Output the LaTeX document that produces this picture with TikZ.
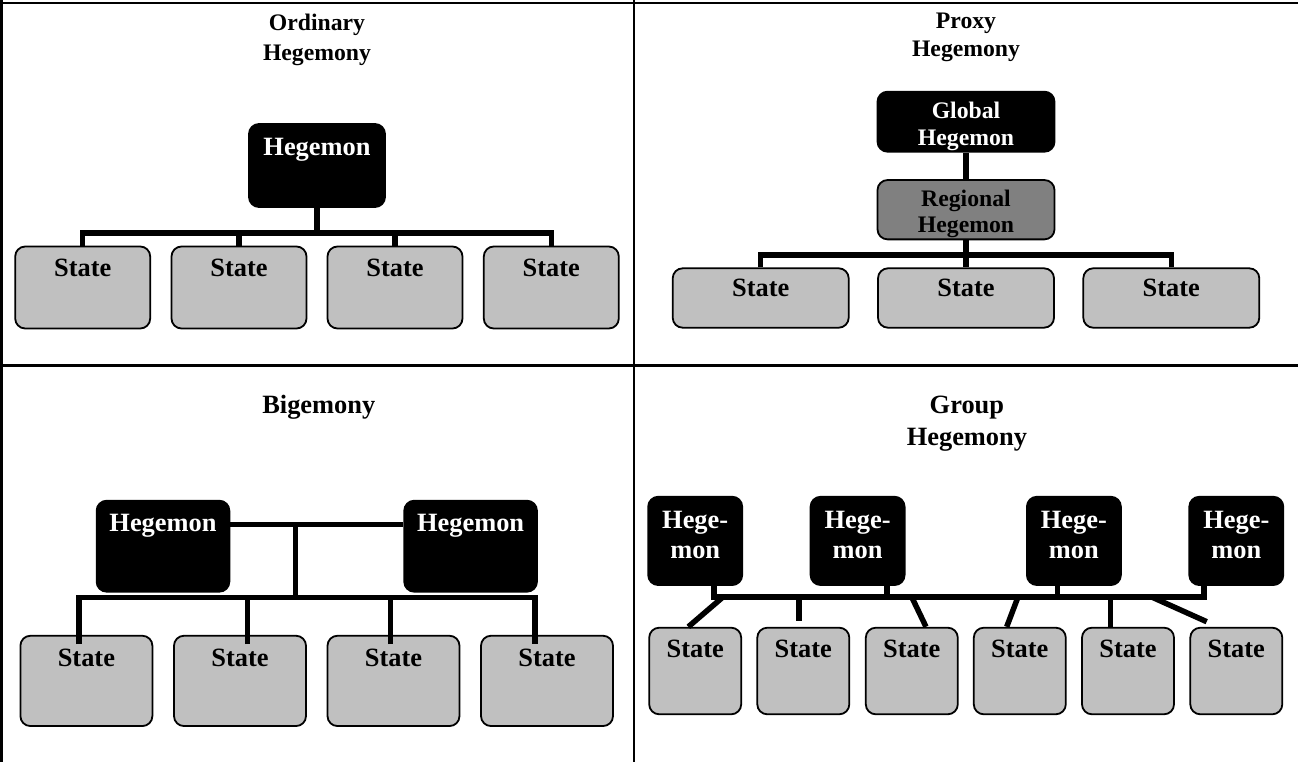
\documentclass[tikz,border=0pt]{standalone}
\usepackage{fontspec}
\setmainfont{Liberation Serif}
\definecolor{stategray}{HTML}{C0C0C0}
\definecolor{reggray}{HTML}{808080}
\begin{document}
\begin{tikzpicture}[x=1pt,y=-1pt,
  frame/.style={line width=2.4pt},
  conn/.style={line width=5.5pt},
  basebox/.style={draw=black, line width=1.8pt, rounded corners=10pt, inner sep=0pt},
  statebox/.style={basebox, fill=stategray},
  hegbox/.style={basebox, fill=black},
  regbox/.style={basebox, fill=reggray},
  big/.style={font=\fontsize{26.4}{30}\selectfont\bfseries, inner sep=0pt, anchor=base},
  small/.style={font=\fontsize{23.7}{28}\selectfont\bfseries, inner sep=0pt, anchor=base},
  wt/.style={text=white}
]
\useasboundingbox (0,0) rectangle (1298,762);

% frame lines
\draw[frame] (0,2.8) -- (1298,2.8);
\draw[frame] (1.3,0) -- (1.3,762);
\draw[frame] (633.8,0) -- (633.8,762);
\draw[frame] (0,365.5) -- (1298,365.5);

% ---------------- Panel 1: Ordinary Hegemony
\node[small] (p1t1) at (317,30.7) {Ordinary};
\node[small] (p1t2) at (317,61) {Hegemony};
\node[hegbox, minimum width=136pt, minimum height=83pt] (h1) at (317,165.5) {};
\foreach \i/\x in {1/82.7,2/239,3/395,4/551.3}{
  \node[statebox, minimum width=135pt, minimum height=82pt] (s1\i) at (\x,287.5) {};
}
\coordinate (j1) at (317,233);
\draw[conn] (h1.south) -- (j1);
\draw[conn] (s11.north) -- (s11.north |- j1) -- (s14.north |- j1) -- (s14.north);
\draw[conn] (s12.north) -- (s12.north |- j1);
\draw[conn] (s13.north) -- (s13.north |- j1);
\node[big, wt] (h1t) at (317,156) {Hegemon};
\foreach \i/\x in {1/82.7,2/239,3/395,4/551.3}{
  \node[big] (s1\i t) at (\x,276.7) {State};
}

% ---------------- Panel 2: Proxy Hegemony
\node[small] (p2t1) at (966,28.3) {Proxy};
\node[small] (p2t2) at (966,57) {Hegemony};
\node[hegbox, minimum width=177pt, minimum height=60pt] (g2) at (966,121.7) {};
\node[regbox, minimum width=177pt, minimum height=59.3pt] (r2) at (966,209.7) {};
\foreach \i/\x in {1/760.7,2/966,3/1171.3}{
  \node[statebox, minimum width=176pt, minimum height=59.4pt] (s2\i) at (\x,298) {};
}
\coordinate (j2) at (966,255);
\draw[conn] (g2.south) -- (r2.north);
\draw[conn] (r2.south) -- (s22.north);
\draw[conn] (s21.north) -- (s21.north |- j2) -- (s23.north |- j2) -- (s23.north);
\node[small, wt] (g2t1) at (966,118.3) {Global};
\node[small, wt] (g2t2) at (966,145.7) {Hegemon};
\node[small] (r2t1) at (966,206.7) {Regional};
\node[small] (r2t2) at (966,233) {Hegemon};
\foreach \i/\x in {1/760.7,2/966,3/1171.3}{
  \node[big] (s2\i t) at (\x,296.7) {State};
}

% ---------------- Panel 3: Bigemony
\node[big] (p3t1) at (318.8,413.3) {Bigemony};
\node[hegbox, minimum width=132.7pt, minimum height=91pt] (h31) at (163,546.2) {};
\node[hegbox, minimum width=132.7pt, minimum height=91pt] (h32) at (470.6,546.2) {};
\foreach \i/\x in {1/86.4,2/240,3/393.5,4/547}{
  \node[statebox, minimum width=132pt, minimum height=90.3pt] (s3\i) at (\x,680.9) {};
}
\coordinate (j3a) at (295.6,524.3);
\coordinate (j3b) at (295.6,597.5);
\draw[conn] (h31.east |- j3a) -- (h32.west |- j3a);
\draw[conn] (j3a) -- (j3b);
\coordinate (d31) at ([xshift=-7.6pt,yshift=-9.3pt]s31.north);
\coordinate (d32) at ([xshift=7.5pt,yshift=-9.3pt]s32.north);
\coordinate (d33) at ([xshift=-3pt,yshift=-9.3pt]s33.north);
\coordinate (d34) at ([xshift=-12.1pt,yshift=-9.3pt]s34.north);
\draw[conn] (d31) -- (d31 |- j3b) -- (d34 |- j3b) -- (d34);
\draw[conn] (d32) -- (d32 |- j3b);
\draw[conn] (d33) -- (d33 |- j3b);
\node[big, wt] (h31t) at (163,531.7) {Hegemon};
\node[big, wt] (h32t) at (470.6,531.7) {Hegemon};
\foreach \i/\x in {1/86.4,2/240,3/393.5,4/547}{
  \node[big] (s3\i t) at (\x,666.7) {State};
}

% ---------------- Panel 4: Group Hegemony
\node[big] (p4t1) at (966.9,413.3) {Group};
\node[big] (p4t2) at (966.9,445) {Hegemony};
\foreach \i/\x in {1/695.2,2/857.6,3/1073.9,4/1236.3}{
  \node[hegbox, minimum width=94pt, minimum height=88.3pt] (h4\i) at (\x,540.9) {};
}
\foreach \i/\x in {1/695.2,2/803.3,3/911.8,4/1019.8,5/1128,6/1236.3}{
  \node[statebox, minimum width=92pt, minimum height=86.6pt] (s4\i) at (\x,671) {};
}
\coordinate (j4) at (960,597);
\coordinate (st41) at ([xshift=18.8pt]h41.south);
\coordinate (st42) at ([xshift=29.4pt]h42.south);
\coordinate (st43) at ([xshift=-16.4pt]h43.south);
\coordinate (st44) at ([xshift=-32.3pt]h44.south);
\draw[conn] (st41) -- (st41 |- j4) -- (st44 |- j4) -- (st44);
\draw[conn] (st42) -- (st42 |- j4);
\draw[conn] (st43) -- (st43 |- j4);
\coordinate (c41) at (723,597);
\coordinate (c42) at (799,597);
\coordinate (e42) at (799,620.7);
\coordinate (c43) at (911.7,597);
\coordinate (c44) at (1018,597);
\coordinate (c45) at (1110.5,597);
\coordinate (c46) at (1151.7,597);
\coordinate (e46) at (1206.7,621.7);
\draw[conn] (c41) -- ([xshift=-6.9pt]s41.north);
\draw[conn] (c42) -- (e42);
\draw[conn] (c43) -- ([xshift=14.2pt]s43.north);
\draw[conn] (c44) -- ([xshift=-13.1pt]s44.north);
\draw[conn] (c45) -- ([xshift=-17.5pt]s45.north);
\draw[conn] (c46) -- (e46);
\foreach \i/\x in {1/695.2,2/857.6,3/1073.9,4/1236.3}{
  \node[big, wt] (h4\i a) at (\x,528.3) {Hege-};
  \node[big, wt] (h4\i b) at (\x,558.3) {mon};
}
\foreach \i/\x in {1/695.2,2/803.3,3/911.8,4/1019.8,5/1128,6/1236.3}{
  \node[big] (s4\i t) at (\x,657.3) {State};
}
\end{tikzpicture}
\end{document}
